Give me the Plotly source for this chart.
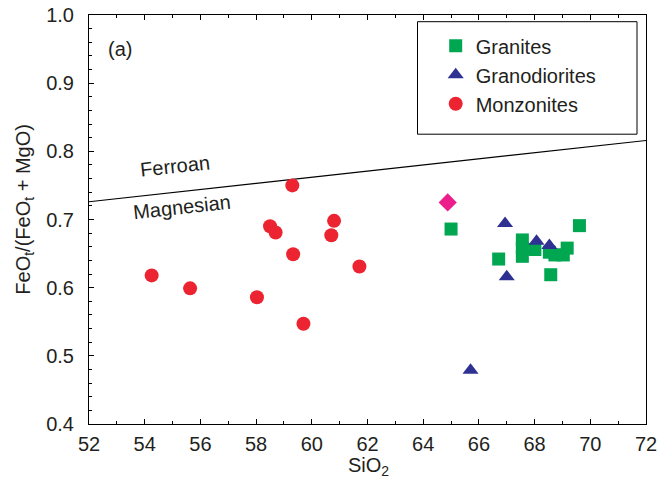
import plotly.graph_objects as go

# ---- data ----
granite_x = [65.0, 66.71, 67.56, 67.56, 67.56, 68.01, 68.53, 68.73, 69.03, 69.17, 68.58, 69.61]
granite_y = [0.686, 0.642, 0.670, 0.658, 0.646, 0.656, 0.652, 0.648, 0.648, 0.658, 0.619, 0.691]

grano_x = [65.70, 66.94, 67.0, 68.07, 68.53]
grano_y = [0.479, 0.694, 0.616, 0.668, 0.662]

monz_x = [54.25, 55.63, 58.03, 58.50, 58.70, 59.30, 59.33, 59.70, 60.70, 60.80, 61.71]
monz_y = [0.618, 0.599, 0.586, 0.690, 0.681, 0.750, 0.649, 0.547, 0.677, 0.698, 0.631]

other_x = [64.88]
other_y = [0.725]

boundary_x = [52, 72]
boundary_y = [0.726, 0.816]

FONT = "Liberation Sans, Arial, sans-serif"
TXT = "#231f20"

fig = go.Figure()

fig.add_trace(go.Scatter(x=boundary_x, y=boundary_y, mode="lines",
                         line=dict(color="black", width=1.1), showlegend=False,
                         hoverinfo="skip"))

fig.add_trace(go.Scatter(x=granite_x, y=granite_y, mode="markers", name="Granites",
                         legendgroup="g1",
                         marker=dict(symbol="square", size=13, color="#00a650")))
fig.add_trace(go.Scatter(x=grano_x, y=grano_y, mode="markers", name="Granodiorites",
                         legendgroup="g2",
                         marker=dict(symbol="triangle-up", size=14, color="#2e3192")))
fig.add_trace(go.Scatter(x=monz_x, y=monz_y, mode="markers", name="Monzonites",
                         legendgroup="g3",
                         marker=dict(symbol="circle", size=14, color="#ec2330")))
fig.add_trace(go.Scatter(x=other_x, y=other_y, mode="markers", showlegend=False,
                         marker=dict(symbol="diamond", size=14, color="#ec1e8c")))

axis_common = dict(showline=True, linecolor="black", linewidth=1, showgrid=False,
                   zeroline=False, ticks="inside", tickcolor="black", tickwidth=1,
                   ticklen=5, automargin=False,
                   tickfont=dict(family=FONT, size=20, color=TXT))

fig.update_xaxes(range=[52, 72], dtick=2, tick0=52, mirror="allticks",
                 minor=dict(dtick=1, ticks="inside", ticklen=3, tickcolor="black"),
                 ticklabelstandoff=2, **axis_common)
fig.update_yaxes(range=[0.4, 1.0], dtick=0.1, tick0=0.4, mirror=True, tickformat=".1f",
                 minor=dict(dtick=0.02, ticks="inside", ticklen=3, tickcolor="black"),
                 ticklabelstandoff=10, **axis_common)

# legend box
fig.add_shape(type="rect", xref="paper", yref="paper",
              x0=(417.5 - 89) / 557, x1=(637 - 89) / 557,
              y0=1 - (134.5 - 15.3) / 409, y1=1 - (22 - 15.3) / 409,
              line=dict(color="black", width=1), fillcolor="rgba(0,0,0,0)")

fig.update_layout(
    width=662, height=496,
    margin=dict(l=89, r=16, t=15, b=72, autoexpand=False),
    plot_bgcolor="white", paper_bgcolor="white",
    font=dict(family=FONT, size=20, color=TXT),
    legend=dict(x=(435.7 - 89) / 557, y=1 - (26.5 - 15.3) / 409, xanchor="left", yanchor="top",
                bgcolor="rgba(0,0,0,0)", borderwidth=0, tracegroupgap=0,
                font=dict(family=FONT, size=20, color=TXT)),
    annotations=[
        dict(text="(a)", x=(120 - 89) / 557, y=1 - (49 - 15.3) / 409, xref="paper", yref="paper",
             xanchor="center", yanchor="middle",
             showarrow=False, font=dict(family=FONT, size=20, color=TXT)),
        dict(text="Ferroan", x=55.1, y=0.778, xref="x", yref="y", showarrow=False,
             xanchor="center", yanchor="middle",
             textangle=-6.2, font=dict(family=FONT, size=20, color=TXT)),
        dict(text="Magnesian", x=55.33, y=0.718, xref="x", yref="y", showarrow=False,
             xanchor="center", yanchor="middle",
             textangle=-6.2, font=dict(family=FONT, size=20, color=TXT)),
        dict(text="SiO<sub>2</sub>", x=(368 - 89) / 557, y=1 - (481 - 15.3) / 409,
             xref="paper", yref="paper", showarrow=False,
             xanchor="center", yanchor="bottom",
             font=dict(family=FONT, size=20, color=TXT)),
        dict(text="FeO<sub>t</sub>/(FeO<sub>t</sub> + MgO)", x=(25 - 89) / 557,
             y=1 - (210 - 15.3) / 409, xref="paper", yref="paper", showarrow=False,
             xanchor="center", yanchor="middle",
             textangle=-90, font=dict(family=FONT, size=20, color=TXT)),
    ],
)

fig.write_html("out.html")
